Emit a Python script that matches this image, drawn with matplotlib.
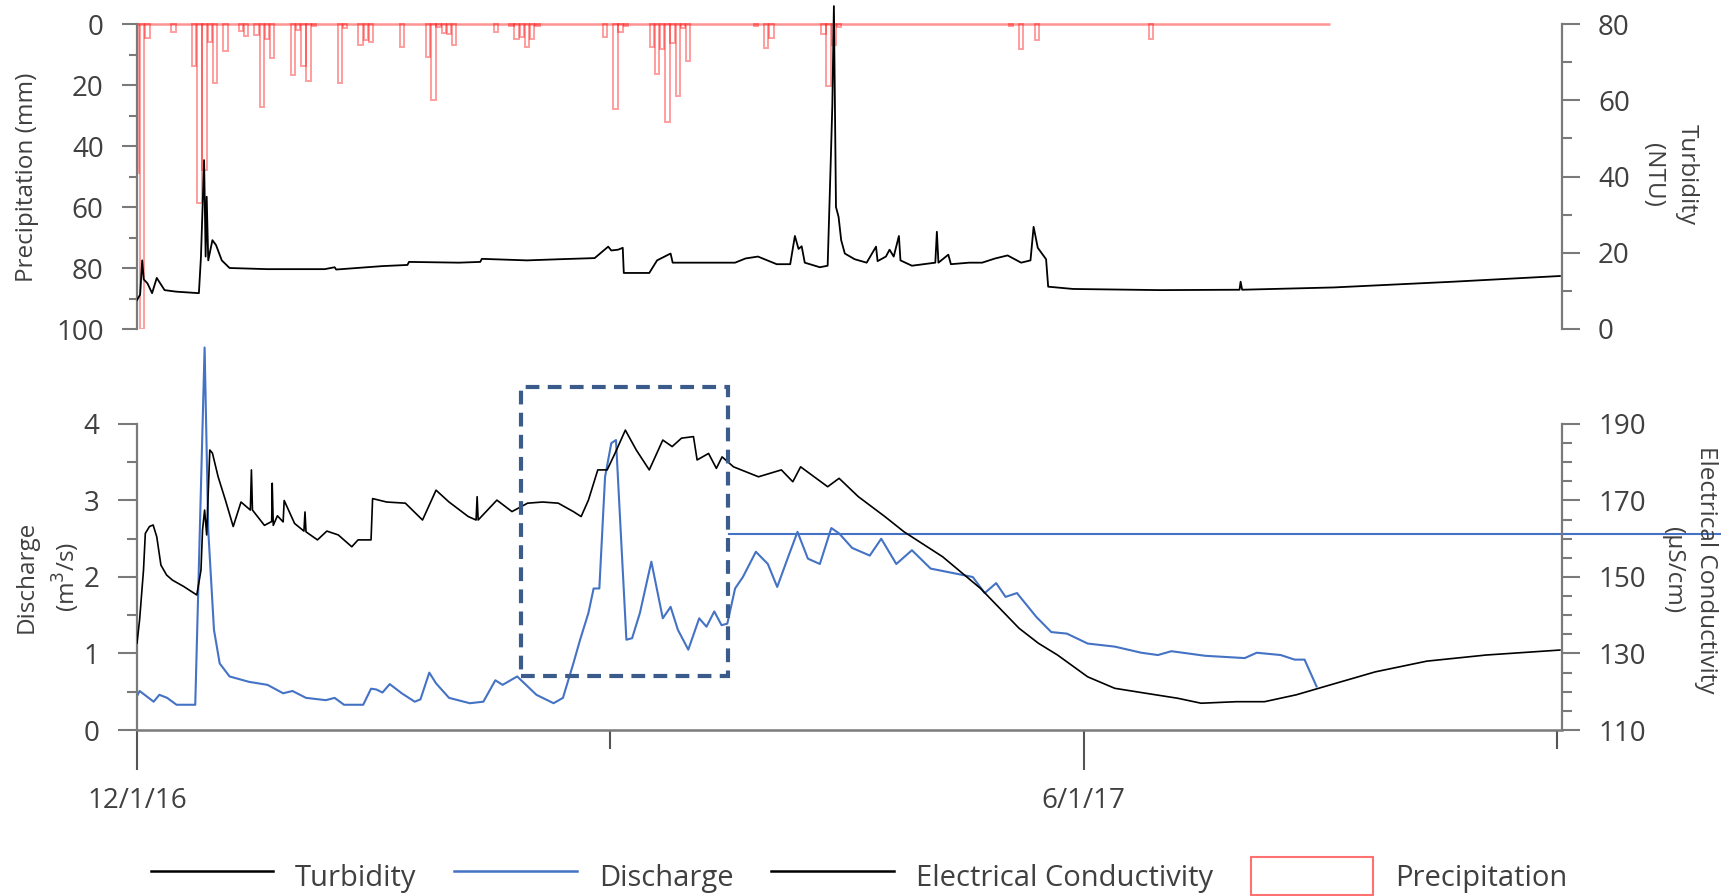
import matplotlib
matplotlib.use('Agg')
import matplotlib.pyplot as plt
from matplotlib.ticker import FixedLocator, FixedFormatter
from matplotlib.patches import Rectangle, Patch
from matplotlib.lines import Line2D

plt.rcParams['font.family'] = ['Open Sans', 'DejaVu Sans']

## dados (x = dias desde 12/1/16)
tick_days = [0, 91, 182, 273]   # eixo de datas com passo fixo de 91 dias
tick_labels = ['12/1/16', '', '6/1/17', '']
x_end = 274

# precipitacao diaria (mm)
rain_day = [0, 1, 2, 7, 11, 12, 13, 14, 15, 17, 20, 21, 23, 24, 25, 26, 30, 31, 32, 33, 34,
            39, 40, 43, 44, 45, 51, 56, 57, 58, 59, 60, 61, 69, 72, 73, 74, 75, 76, 77,
            90, 92, 93, 94, 99, 100, 101, 102, 103, 104, 105, 106, 119, 121, 122,
            132, 133, 134, 135, 168, 170, 173, 195]
rain_mm = [49, 100, 4.7, 2.7, 13.7, 58.8, 48, 5.8, 19.4, 8.8, 2.2, 3.9, 3.6, 27.2, 5, 11.2, 16.7, 2, 13.7, 18.8, 0.7,
           19.4, 1.2, 6.9, 5.2, 6, 7.6, 10.9, 24.8, 0.9, 3, 3.4, 6.9, 2.7, 0.7, 4.9, 4.1, 7.4, 4.9, 0.7,
           4.1, 27.8, 2.7, 0.7, 7.6, 16.3, 8.3, 32.1, 6.1, 23.5, 1.4, 12, 0.7, 8, 4.7,
           3.4, 20.3, 6.9, 1.1, 0.7, 8.3, 5.4, 4.9]
rain_record = [0, 229.4]

# turbidez (NTU)
turb_day = [0, 0.6, 1.0, 1.3, 2.0, 2.9, 3.8, 5.3, 7.5, 11.9, 12.3, 12.9, 13.2, 13.4, 13.7, 14.5, 15.2,
            16.3, 17.8, 25, 36.1, 38, 38.3, 47.2, 52, 52.3, 61.9, 66, 66.3, 75, 81.2, 88, 90.6, 91.2,
            92.5, 93.4, 93.6, 98.5, 100, 102.6, 103, 115, 117, 119.4, 123, 125.6, 126.5, 127.2,
            127.8, 128.4, 131.3, 132.8, 133.4, 133.7, 134, 134.4, 134.9, 135.4, 136.1, 138, 140.3,
            142.1, 142.4, 144, 144.7, 145.5, 146.5, 146.8, 149, 153.5, 153.8, 154.1, 156, 156.5,
            160, 162.5, 165, 167.4, 170, 171.8, 172.4, 173.2, 174.8, 175.2, 180, 196.8, 212,
            212.2, 212.5, 230.1, 253, 273.6]
turb_ntu = [7.6, 9, 18, 13, 12, 9.4, 13.4, 10.2, 9.8, 9.4, 19, 44.3, 19, 34.7, 18, 23.3, 22,
            18, 16, 15.7, 15.7, 16.2, 15.6, 16.5, 16.8, 17.6, 17.4, 17.6, 18.4, 18, 18.3, 18.6, 21.6, 20.6,
            20.8, 21.3, 14.7, 14.7, 18, 19.8, 17.4, 17.4, 18.5, 19, 17, 17, 24.4, 21,
            21.7, 17.4, 16.2, 16.6, 44.3, 58.8, 84.7, 32, 29.4, 23.3, 19.8, 18.3, 17.4,
            21.6, 17.8, 19, 20.8, 19, 24.4, 18, 16.6, 17.4, 25.5, 17.4, 19.5, 17,
            17.4, 17.4, 18.5, 19.3, 17.4, 18, 26.8, 21.3, 18.3, 11.1, 10.5, 10.2, 10.3,
            12.4, 10.3, 10.9, 12.4, 13.9]

# vazao (m3/s)
q_day = [0, 0.5, 3.2, 4.3, 5.8, 7.6, 11.2, 13, 13.7, 14.8, 15.9, 17.8, 21.5, 25.1, 28.1, 29.9,
         32.5, 36.3, 38, 39.8, 43.5, 45, 46, 47.2, 48.6, 50.9, 53.4, 54.5, 56.2, 57.5, 60, 64,
         66.6, 68.9, 70.3, 73.1, 76.8, 80.1, 81.9, 83.9, 85.2, 86.8, 87.8, 88.9, 90, 91.2, 92.1,
         93, 94.1, 95.2, 96.7, 98.9, 101.1, 102.6, 104, 106, 108.1, 109.5, 111, 112.4, 113.5,
         115, 116.5, 119, 121.3, 123.1, 125.3, 127, 129, 131.3, 133.5, 135, 137.5, 140.9, 143.1,
         146, 149, 152.6, 158.5, 160.7, 163, 165.2, 167, 169.2, 172.9, 175.8, 178.8, 182.8, 188,
         193.1, 196.3, 198.9, 205.4, 213, 215.3, 219.9, 222.6, 224.5, 226.8]
q_m3s = [0.44, 0.51, 0.37, 0.46, 0.42, 0.33, 0.33, 5.0, 2.61, 1.31, 0.87, 0.70, 0.63, 0.59, 0.48, 0.51,
         0.42, 0.39, 0.42, 0.33, 0.33, 0.54, 0.53, 0.49, 0.60, 0.48, 0.37, 0.40, 0.75, 0.61, 0.42, 0.35,
         0.37, 0.65, 0.59, 0.70, 0.46, 0.35, 0.42, 0.87, 1.18, 1.53, 1.85, 1.85, 3.31, 3.75, 3.79,
         2.61, 1.18, 1.20, 1.53, 2.20, 1.46, 1.61, 1.31, 1.05, 1.46, 1.35, 1.55, 1.37, 1.39,
         1.85, 2.0, 2.33, 2.17, 1.87, 2.28, 2.59, 2.24, 2.17, 2.64, 2.57, 2.38, 2.28, 2.50,
         2.17, 2.35, 2.11, 2.03, 2.0, 1.79, 1.92, 1.74, 1.79, 1.48, 1.28, 1.26, 1.13, 1.09,
         1.01, 0.98, 1.03, 0.97, 0.94, 1.01, 0.98, 0.92, 0.92, 0.57]
q_flat_day = [113.8, 305]
q_flat_m3s = [2.56, 2.56]

# condutividade eletrica (uS/cm)
ec_day = [0, 0.5, 1.25, 1.6, 2.4, 3.1, 3.8, 4.6, 5.7, 6.8, 9.0, 11.5, 12.3, 12.6, 13.0, 13.4, 14.0,
          14.5, 15.6, 17.0, 18.5, 20.0, 21.8, 22.0, 22.2, 24.5, 25.9, 26.0, 26.2, 27.0, 28.1, 28.3,
          30.3, 32.1, 32.3, 32.5, 34.7, 36.5, 38.7, 41.3, 42.5, 45.0, 45.3, 48, 51.6, 54.9, 57.5,
          60.0, 63.7, 65.2, 65.4, 65.6, 69.2, 72.1, 75.1, 78.0, 81.0, 83.9, 85.4, 86.8, 88.6, 90.4,
          91.9, 93.9, 96, 98.5, 101.1, 102.9, 104.7, 107, 107.7, 109.9, 111.4, 112.5, 114.7, 119.5,
          123.9, 126.1, 127.6, 132.8, 135, 138.7, 143.8, 147.5, 154.9, 162.2, 169.6, 173.3, 177,
          182.8, 188, 194, 200.1, 204.6, 211.4, 216.8, 222.9, 228.2, 238.1, 248, 259.4, 273.6]
ec_uscm = [132.7, 138.8, 151.8, 161.4, 163.2, 163.6, 160.5, 153.1, 150.5, 149.2, 147.5, 145.3, 151.8, 162.3, 167.5, 161, 183.2,
           182.4, 176.2, 170.1, 163.2, 169.6, 167.5, 178, 167.5, 163.5, 164.5, 174.5, 163.5, 166, 164.4, 170,
           164, 162, 167, 161.8, 159.7, 162, 161, 157.9, 159.7, 159.7, 170.5, 169.6, 169.3, 164.9, 172.7,
           169.6, 165.8, 164.9, 171, 164.9, 170.1, 167.1, 169.3, 169.6, 169.3, 167.1, 165.8, 170.1, 178, 178,
           182.3, 188.4, 183.2, 178, 185.8, 184.1, 186.3, 186.7, 180.6, 182.3, 178.4, 181.4, 178.8, 176.2,
           178, 174.9, 178.8, 173.6, 175.8, 171, 165.8, 161.8, 155.3, 147, 136.6, 132.7, 129.6,
           123.9, 120.9, 119.6, 118.3, 117, 117.4, 117.4, 119.2, 121.3, 125.2, 128, 129.6, 130.9]

# caixa tracejada (dias, vazao)
box_day = [73.8, 113.7]
box_m3s = [0.70, 4.48]

## estilo
grey = '#7a7a7a'
txt = '#404040'
blue = '#4472C4'
red = '#FF0000'
W, H = 1721, 896

fig = plt.figure(figsize=(W / 100, H / 100), dpi=100)

def box(x0, y0, x1, y1):
    return [x0 / W, 1 - y1 / H, (x1 - x0) / W, (y1 - y0) / H]

def style_y(ax, major, minor, lmaj, lmin, side):
    ax.yaxis.set_major_locator(FixedLocator(major))
    ax.yaxis.set_minor_locator(FixedLocator(minor))
    ax.tick_params(axis='y', which='major', length=lmaj, width=1.5, color=grey,
                   labelsize=20, labelcolor=txt, pad=13)
    ax.tick_params(axis='y', which='minor', length=lmin, width=1.5, color=grey)
    ax.spines[side].set_bounds(major[0], major[-1])
    ax.spines[side].set_color(grey)
    ax.spines[side].set_linewidth(1.6)

# painel de cima: precipitacao + turbidez
ax_top = fig.add_axes(box(137, 4, 1562, 329))
ax_tur = ax_top.twinx()
for s in ['top', 'bottom', 'right']:
    ax_top.spines[s].set_visible(False)
for s in ['top', 'bottom', 'left']:
    ax_tur.spines[s].set_visible(False)

ax_top.bar(rain_day, rain_mm, width=0.85, bottom=0, facecolor='none',
           edgecolor=red, alpha=0.38, linewidth=1.4)
ax_top.hlines(0, rain_record[0], rain_record[1], color=red, alpha=0.42, linewidth=1.8)
ax_top.set_ylim(100, -6.56)
ax_top.set_xlim(0, x_end)
ax_top.set_xticks([])
style_y(ax_top, [0, 20, 40, 60, 80, 100], [10, 30, 50, 70, 90], 11, 5.5, 'left')

ax_tur.plot(turb_day, turb_ntu, color='black', linewidth=1.3)
ax_tur.set_ylim(0, 85.25)
style_y(ax_tur, [0, 20, 40, 60, 80], [10, 30, 50, 70], 13, 7, 'right')

# painel de baixo: vazao + condutividade
ax_bot = fig.add_axes(box(137, 340, 1562, 730))
ax_ec = ax_bot.twinx()
for s in ['top', 'right']:
    ax_bot.spines[s].set_visible(False)
for s in ['top', 'bottom', 'left']:
    ax_ec.spines[s].set_visible(False)

ax_bot.plot(q_day, q_m3s, color=blue, linewidth=1.5)
ax_bot.plot(q_flat_day, q_flat_m3s, color=blue, linewidth=1.5, clip_on=False)
ax_bot.set_ylim(0, 5.098)
ax_bot.set_xlim(0, x_end)
style_y(ax_bot, [0, 1, 2, 3, 4], [0.5, 1.5, 2.5, 3.5], 14, 7, 'left')

ax_bot.spines['bottom'].set_color(grey)
ax_bot.spines['bottom'].set_linewidth(1.8)
ax_bot.xaxis.set_major_locator(FixedLocator([tick_days[0], tick_days[2]]))
ax_bot.xaxis.set_major_formatter(FixedFormatter([tick_labels[0], tick_labels[2]]))
ax_bot.xaxis.set_minor_locator(FixedLocator([tick_days[1], tick_days[3]]))
ax_bot.tick_params(axis='x', which='major', length=29, width=1.5, color='#555555',
                   labelsize=20, labelcolor=txt, pad=12)
ax_bot.tick_params(axis='x', which='minor', length=14, width=1.5, color='#555555')

ax_ec.plot(ec_day, ec_uscm, color='black', linewidth=1.2)
ax_ec.set_ylim(110, 211.96)
style_y(ax_ec, [110, 130, 150, 170, 190], list(range(115, 190, 5)), 13, 7, 'right')
ax_ec.yaxis.set_minor_locator(FixedLocator([v for v in range(115, 190, 5) if v % 20 != 10]))

rect = Rectangle((box_day[0], box_m3s[0]), box_day[1] - box_day[0], box_m3s[1] - box_m3s[0],
                 transform=ax_bot.transData, fill=False, edgecolor='#3B5B8A', linewidth=3,
                 linestyle=(0, (3.3, 2)), zorder=5, clip_on=False)
ax_ec.add_patch(rect)

# rotulos dos eixos
lab = dict(fontsize=17.5, color='#404040', ha='center', va='center', linespacing=1.5)
fig.text(27 / W, 1 - 177 / H, 'Precipitation (mm)', rotation=90, **lab)
fig.text(48 / W, 1 - 577 / H, 'Discharge\n(m$^3$/s)', rotation=90, **lab)
fig.text(1670 / W, 1 - 175 / H, 'Turbidity\n(NTU)', rotation=270, **lab)
fig.text(1690 / W, 1 - 570 / H, 'Electrical Conductivity\n(µS/cm)', rotation=270, **lab)

# legenda
handles = [Line2D([], [], color='black', linewidth=1.8),
           Line2D([], [], color=blue, linewidth=1.8),
           Line2D([], [], color='black', linewidth=1.8),
           Patch(facecolor='white', edgecolor='#FF7070', linewidth=1.5)]
names = ['Turbidity', 'Discharge', 'Electrical Conductivity', 'Precipitation']
fig.legend(handles, names, loc='center', bbox_to_anchor=(859 / W, 1 - 876 / H), ncol=4,
           frameon=False, fontsize=21, handlelength=4.2, handleheight=1.6,
           handletextpad=0.75, columnspacing=1.3, labelcolor=txt)

fig.savefig('out.png', dpi=100)
